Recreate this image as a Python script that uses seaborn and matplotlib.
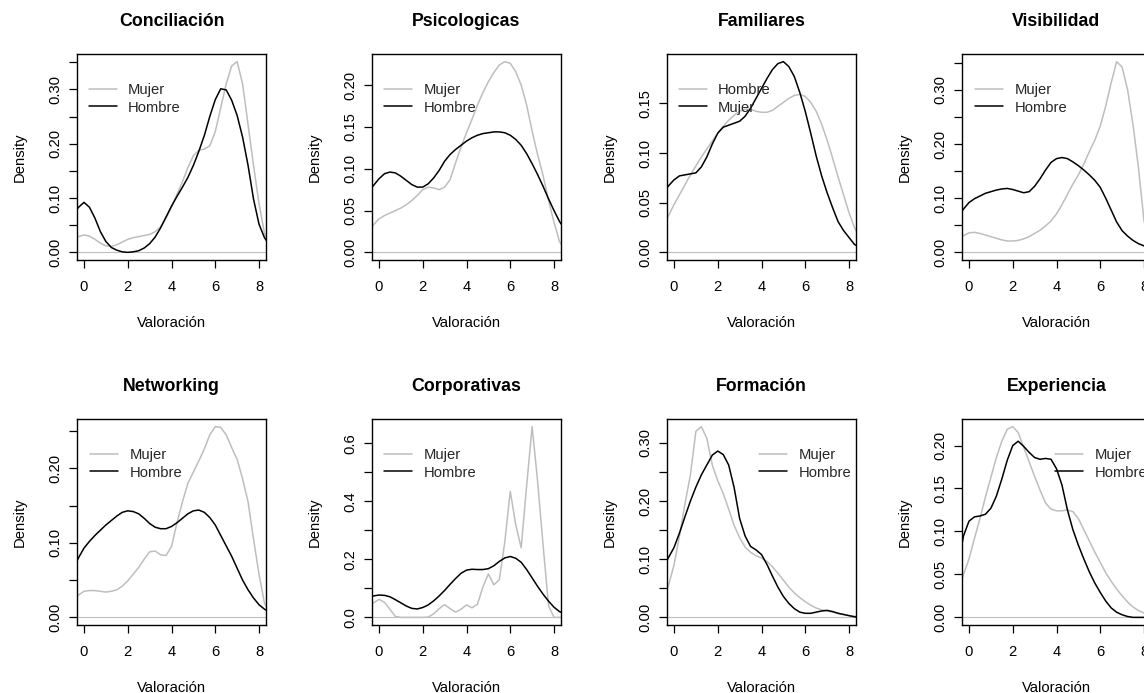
import matplotlib
matplotlib.use("Agg")
import matplotlib.pyplot as plt
import seaborn as sns
import pandas as pd
from matplotlib.ticker import MultipleLocator, FixedLocator, FuncFormatter

# ---------------- data ----------------
X = [-0.5, -0.25, 0.0, 0.25, 0.5, 0.75, 1.0, 1.25, 1.5, 1.75, 2.0, 2.25, 2.5,
     2.75, 3.0, 3.25, 3.5, 3.75, 4.0, 4.25, 4.5, 4.75, 5.0, 5.25, 5.5, 5.75,
     6.0, 6.25, 6.5, 6.75, 7.0, 7.25, 7.5, 7.75, 8.0, 8.25, 8.5]

titles = ["Conciliación", "Psicologicas", "Familiares", "Visibilidad",
          "Networking", "Corporativas", "Formación", "Experiencia"]

conciliacion_gris = [0.025, 0.029, 0.032, 0.030, 0.024, 0.017, 0.012, 0.011, 0.014, 0.019, 0.024, 0.027, 0.029,
                     0.031, 0.033, 0.038, 0.047, 0.063, 0.084, 0.107, 0.130, 0.156, 0.178, 0.188, 0.190, 0.196,
                     0.222, 0.266, 0.310, 0.343, 0.351, 0.310, 0.235, 0.160, 0.090, 0.035, 0.010]
conciliacion_negro = [0.070, 0.083, 0.092, 0.083, 0.063, 0.038, 0.020, 0.009, 0.004, 0.001, 0.000, 0.001, 0.003,
                      0.008, 0.016, 0.028, 0.045, 0.065, 0.085, 0.103, 0.120, 0.138, 0.160, 0.186, 0.215, 0.250,
                      0.281, 0.301, 0.299, 0.280, 0.252, 0.212, 0.160, 0.098, 0.052, 0.027, 0.012]

psicologicas_gris = [0.022, 0.033, 0.040, 0.044, 0.047, 0.050, 0.053, 0.057, 0.062, 0.068, 0.075, 0.078, 0.077,
                     0.075, 0.078, 0.087, 0.107, 0.126, 0.143, 0.159, 0.176, 0.191, 0.204, 0.215, 0.224, 0.228,
                     0.226, 0.216, 0.200, 0.176, 0.145, 0.117, 0.092, 0.062, 0.036, 0.013, 0.003]
psicologicas_negro = [0.072, 0.080, 0.088, 0.094, 0.096, 0.095, 0.091, 0.086, 0.081, 0.078, 0.078, 0.082, 0.089,
                      0.098, 0.109, 0.117, 0.123, 0.128, 0.133, 0.137, 0.140, 0.142, 0.143, 0.144, 0.144, 0.143,
                      0.140, 0.135, 0.128, 0.118, 0.106, 0.093, 0.079, 0.064, 0.050, 0.037, 0.027]

familiares_gris = [0.027, 0.037, 0.048, 0.058, 0.068, 0.078, 0.087, 0.096, 0.104, 0.112, 0.120, 0.127, 0.133,
                   0.138, 0.142, 0.144, 0.144, 0.142, 0.141, 0.141, 0.143, 0.147, 0.151, 0.155, 0.158, 0.159,
                   0.157, 0.151, 0.142, 0.129, 0.113, 0.095, 0.076, 0.058, 0.040, 0.025, 0.014]
familiares_negro = [0.060, 0.067, 0.073, 0.077, 0.078, 0.079, 0.080, 0.086, 0.096, 0.109, 0.120, 0.126, 0.128,
                    0.130, 0.132, 0.137, 0.145, 0.155, 0.165, 0.175, 0.184, 0.190, 0.192, 0.187, 0.177, 0.161,
                    0.142, 0.120, 0.097, 0.077, 0.060, 0.045, 0.031, 0.022, 0.015, 0.008, 0.005]

visibilidad_gris = [0.025, 0.031, 0.036, 0.037, 0.035, 0.032, 0.029, 0.026, 0.023, 0.021, 0.021, 0.022, 0.025,
                    0.029, 0.035, 0.041, 0.049, 0.058, 0.071, 0.088, 0.107, 0.126, 0.143, 0.163, 0.186, 0.207,
                    0.233, 0.270, 0.313, 0.352, 0.342, 0.300, 0.235, 0.155, 0.058, 0.022, 0.008]
visibilidad_negro = [0.065, 0.080, 0.092, 0.099, 0.104, 0.109, 0.112, 0.115, 0.117, 0.118, 0.116, 0.113, 0.110,
                     0.112, 0.122, 0.136, 0.152, 0.166, 0.173, 0.175, 0.173, 0.167, 0.160, 0.152, 0.143, 0.133,
                     0.120, 0.100, 0.078, 0.056, 0.040, 0.030, 0.022, 0.016, 0.012, 0.008, 0.005]

networking_gris = [0.022, 0.030, 0.035, 0.036, 0.036, 0.035, 0.034, 0.035, 0.037, 0.042, 0.049, 0.058, 0.067,
                   0.078, 0.088, 0.089, 0.084, 0.083, 0.095, 0.127, 0.155, 0.180, 0.195, 0.210, 0.226, 0.245,
                   0.256, 0.255, 0.245, 0.228, 0.212, 0.186, 0.155, 0.105, 0.058, 0.019, 0.005]
networking_negro = [0.065, 0.080, 0.093, 0.102, 0.110, 0.117, 0.124, 0.130, 0.136, 0.141, 0.143, 0.142, 0.139,
                    0.133, 0.126, 0.121, 0.119, 0.119, 0.122, 0.127, 0.133, 0.139, 0.143, 0.144, 0.141, 0.134,
                    0.124, 0.110, 0.096, 0.082, 0.066, 0.050, 0.037, 0.026, 0.017, 0.011, 0.007]

corporativas_gris = [0.030, 0.050, 0.062, 0.052, 0.028, 0.003, 0.000, 0.000, 0.000, 0.000, 0.000, 0.001, 0.012,
                     0.030, 0.044, 0.030, 0.018, 0.028, 0.043, 0.033, 0.045, 0.105, 0.150, 0.112, 0.130, 0.260,
                     0.435, 0.320, 0.240, 0.455, 0.658, 0.470, 0.250, 0.040, 0.000, 0.000, 0.000]
corporativas_negro = [0.070, 0.074, 0.077, 0.076, 0.071, 0.061, 0.050, 0.039, 0.031, 0.029, 0.034, 0.043, 0.057,
                      0.074, 0.093, 0.114, 0.134, 0.152, 0.163, 0.166, 0.165, 0.165, 0.168, 0.178, 0.193, 0.205,
                      0.210, 0.204, 0.190, 0.165, 0.136, 0.107, 0.080, 0.056, 0.035, 0.020, 0.012]

formacion_gris = [0.025, 0.055, 0.090, 0.140, 0.195, 0.245, 0.320, 0.328, 0.308, 0.262, 0.235, 0.213, 0.186,
                  0.158, 0.137, 0.121, 0.112, 0.106, 0.102, 0.096, 0.087, 0.076, 0.064, 0.052, 0.042, 0.034,
                  0.027, 0.021, 0.016, 0.013, 0.011, 0.009, 0.007, 0.005, 0.003, 0.002, 0.001]
formacion_negro = [0.085, 0.103, 0.120, 0.145, 0.173, 0.200, 0.224, 0.245, 0.262, 0.279, 0.286, 0.280, 0.262,
                   0.223, 0.170, 0.140, 0.122, 0.116, 0.108, 0.091, 0.071, 0.052, 0.036, 0.024, 0.015, 0.009,
                   0.007, 0.007, 0.009, 0.011, 0.012, 0.010, 0.007, 0.005, 0.003, 0.001, 0.000]

experiencia_gris = [0.030, 0.050, 0.068, 0.092, 0.115, 0.140, 0.163, 0.186, 0.205, 0.219, 0.222, 0.215, 0.198,
                    0.181, 0.164, 0.148, 0.133, 0.126, 0.124, 0.124, 0.125, 0.123, 0.115, 0.102, 0.089, 0.076,
                    0.064, 0.052, 0.042, 0.033, 0.025, 0.018, 0.012, 0.008, 0.005, 0.003, 0.002]
experiencia_negro = [0.060, 0.095, 0.112, 0.117, 0.118, 0.120, 0.127, 0.141, 0.161, 0.183, 0.200, 0.205, 0.199,
                     0.192, 0.186, 0.184, 0.185, 0.184, 0.173, 0.154, 0.125, 0.102, 0.084, 0.068, 0.053, 0.040,
                     0.029, 0.019, 0.011, 0.006, 0.003, 0.001, 0.000, 0.000, 0.000, 0.000, 0.000]

series_gris = [conciliacion_gris, psicologicas_gris, familiares_gris, visibilidad_gris,
               networking_gris, corporativas_gris, formacion_gris, experiencia_gris]
series_negro = [conciliacion_negro, psicologicas_negro, familiares_negro, visibilidad_negro,
                networking_negro, corporativas_negro, formacion_negro, experiencia_negro]

# legend labels (the original swaps them in "Familiares")
label_gris = ["Mujer", "Mujer", "Hombre", "Mujer", "Mujer", "Mujer", "Mujer", "Mujer"]
label_negro = ["Hombre", "Hombre", "Mujer", "Hombre", "Hombre", "Hombre", "Hombre", "Hombre"]

x_ticks = [0, 2, 4, 6, 8]
y_tick_step = [0.05, 0.05, 0.05, 0.05, 0.05, 0.1, 0.05, 0.05]
y_label_every = [2, 1, 1, 2, 2, 2, 2, 1]
y_decimals = [2, 2, 2, 2, 2, 1, 2, 2]

# ---------------- style / layout ----------------
sns.set_style("ticks")
plt.rcParams["font.family"] = ["Liberation Sans", "DejaVu Sans"]

W, H = 1144, 693
fig = plt.figure(figsize=(W / 100, H / 100), dpi=100)
fig.patch.set_facecolor("white")

col_left = [77, 372, 667, 962]
row_top = [54, 419]
ax_w, ax_h = 189, 206
legend_x = [0.061, 0.065, 0.062, 0.07, 0.07, 0.065, 0.487, 0.494]

FS = 10.66
GRAY = "#BEBEBE"

for i in range(8):
    r, c = divmod(i, 4)
    L = col_left[c]
    T = row_top[r]
    ax = fig.add_axes([L / W, 1 - (T + ax_h) / H, ax_w / W, ax_h / H])
    ax.set_facecolor("white")

    g = series_gris[i]
    b = series_negro[i]
    df = pd.DataFrame({
        "Valoración": X + X,
        "Density": g + b,
        "serie": ["gris"] * len(X) + ["negro"] * len(X),
    })
    ax.axhline(0, color=GRAY, lw=0.8, zorder=1)
    sns.lineplot(data=df[df.serie == "gris"], x="Valoración", y="Density",
                 color=GRAY, lw=1.1, ax=ax, label=label_gris[i], errorbar=None, zorder=2)
    sns.lineplot(data=df[df.serie == "negro"], x="Valoración", y="Density",
                 color="black", lw=1.1, ax=ax, label=label_negro[i], errorbar=None, zorder=3)

    M = max(max(g), max(b))
    ax.set_ylim(-0.04 * M, 1.04 * M)
    ax.set_xlim(-0.32, 8.32)

    ax.xaxis.set_major_locator(FixedLocator(x_ticks))
    ax.set_xticklabels([str(t) for t in x_ticks])
    step = y_tick_step[i]
    every = y_label_every[i]
    dec = y_decimals[i]
    ax.yaxis.set_major_locator(MultipleLocator(step))

    def fmt(v, pos, step=step, every=every, dec=dec):
        k = int(round(v / step))
        if k % every != 0:
            return ""
        return f"{abs(v) if abs(v) < 1e-9 else v:.{dec}f}"
    ax.yaxis.set_major_formatter(FuncFormatter(fmt))

    ax.tick_params(axis="both", direction="out", length=6, width=0.9,
                   colors="black", labelsize=FS, labelcolor="black")
    ax.tick_params(axis="x", pad=8.5)
    ax.tick_params(axis="y", pad=4.8, labelrotation=90)
    for lab in ax.get_yticklabels():
        lab.set_va("center")

    for sp in ax.spines.values():
        sp.set_visible(True)
        sp.set_color("black")
        sp.set_linewidth(1.0)

    ax.set_title(titles[i], fontsize=12.8, fontweight="bold", pad=19.8, color="black")
    ax.set_xlabel("Valoración", fontsize=FS, va="baseline", color="black")
    ax.xaxis.set_label_coords(0.5, -67 / ax_h)
    ax.set_ylabel("Density", fontsize=FS, color="black")
    ax.yaxis.set_label_coords(-50 / ax_w, 0.5)

    ax.legend(loc="upper left", bbox_to_anchor=(legend_x[i], 1 - 29 / ax_h),
              frameon=False, borderpad=0, borderaxespad=0, handlelength=1.9,
              handletextpad=0.75, labelspacing=0.24, fontsize=FS)

fig.savefig("out.png", dpi=100, facecolor="white")
